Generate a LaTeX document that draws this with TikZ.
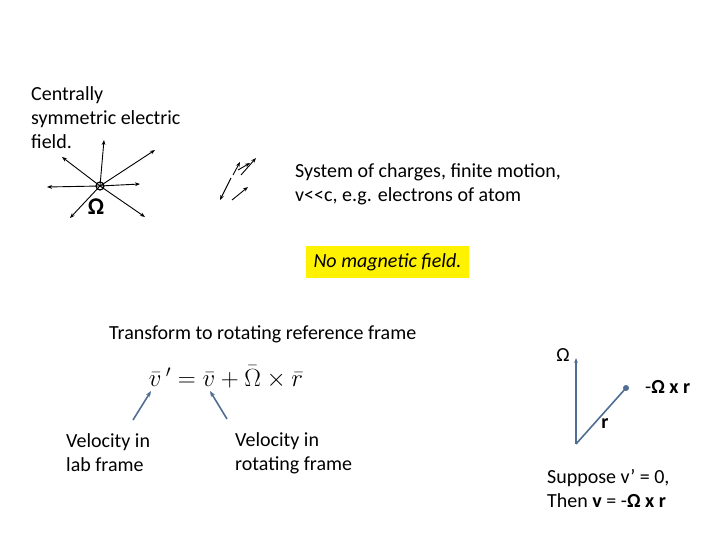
\documentclass[tikz,border=0pt]{standalone}
\usepackage{fontspec}
\setmainfont{Carlito}
\usetikzlibrary{arrows.meta}
\definecolor{vb}{RGB}{79,110,145}
\begin{document}
\begin{tikzpicture}[x=1pt,y=-1pt,
  txt/.style={anchor=west,align=left,font=\fontsize{20}{24}\selectfont,inner sep=0},
  hand/.style={line width=0.9pt,-{Stealth[length=5pt]}},
  vec/.style={draw=vb,line width=1.6pt}]
\useasboundingbox (0,0) rectangle (720,540);
\node[txt] (t1) at (31,118) {Centrally\\symmetric electric\\field.};
\node[txt] (t2) at (295,184) {System of charges, finite motion,\\v{<}{<}c, e.g. electrons of atom};
\node[fill=yellow,minimum width=163pt,minimum height=32pt,font=\fontsize{20}{24}\selectfont\itshape] (ym) at (387.5,262) {No magnetic field.};
\node[txt] (t3) at (109,334) {Transform to rotating reference frame};
% sketch 1
\coordinate (c) at (100,186);
\foreach \p in {(104,140),(155,150),(140,184),(145,217),(70,218),(47,187),(62,157)}
  \draw[hand] (c) -- \p;
\draw[line width=1.2pt] (c) circle (4pt);
\node[font=\fontsize{24}{24}\selectfont\bfseries] (q) at (96,207) {Ω};
% sketch 2
\draw[hand] (231,178) -- (220,200);
\draw[hand] (233,175) -- (240,162);
\draw[hand] (241,175) -- (256,158);
\draw[hand] (232,200) -- (248,187);
\draw[hand] (238,170) -- (250,163);
% equation
\node[font=\fontsize{25}{25}\selectfont] (eq) at (226,377) {$\bar{v}\,' = \bar{v} + \bar{\Omega}\times\bar{r}$};
\coordinate (e1) at (151,391); \coordinate (e2) at (210,391);
\coordinate (s1) at (133,420); \coordinate (s2) at (227,419);
\draw[vec,-{Stealth[length=6pt]}] (s1) -- (e1);
\draw[vec,-{Stealth[length=6pt]}] (s2) -- (e2);
\node[txt] (l1) at (66,453) {Velocity in\\lab frame};
\node[txt] (l2) at (235,453) {Velocity in\\rotating frame};
% vectors
\coordinate (o) at (576,444);
\coordinate (om) at (576,358);
\coordinate (rr) at (626,388);
\draw[vec,-{Stealth[length=5pt]}] (o) -- (om);
\draw[vec] (o) -- (rr);
\fill[vb] (rr) circle (3pt);
\node[font=\fontsize{20}{20}\selectfont] (ol) at (563,355) {Ω};
\node[txt] (ox) at (645,387) {-\textbf{Ω x r}};
\node[font=\fontsize{20}{20}\selectfont\bfseries] (rl) at (605,424) {r};
\node[txt] (sp) at (547,489) {Suppose v’ = 0,\\Then \textbf{v} = -\textbf{Ω x r}};
\end{tikzpicture}
\end{document}
